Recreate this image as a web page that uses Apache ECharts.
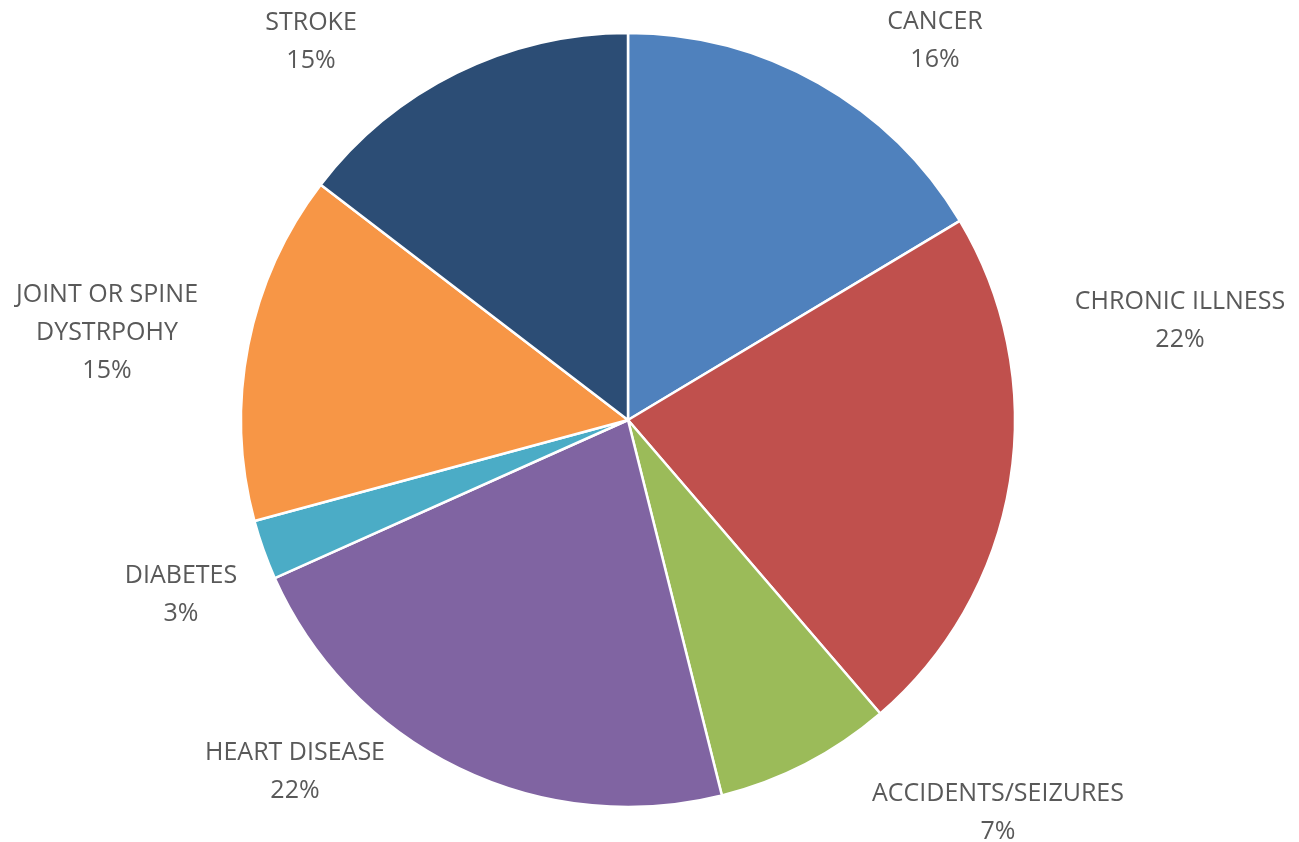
<!DOCTYPE html>
<html>
<head>
<meta charset="utf-8">
<script src="https://cdn.jsdelivr.net/npm/echarts@6/dist/echarts.min.js"></script>
<style>
  html, body { margin: 0; padding: 0; background: #ffffff; }
  #chart { width: 1299px; height: 842px; }
</style>
</head>
<body>
<div id="chart"></div>
<script>
// ---- data ----
const categories = ['CANCER', 'CHRONIC ILLNESS', 'ACCIDENTS/SEIZURES', 'HEART DISEASE', 'DIABETES', 'JOINT OR SPINE\nDYSTRPOHY', 'STROKE'];
const shares = [16.4, 22.3, 7.4, 22.2, 2.5, 14.6, 14.6];

// ---- style ----
const colors = ['#4F81BD', '#C0504D', '#9BBB59', '#8064A2', '#4BACC6', '#F79646', '#2C4D75'];
const CX = 628, CY = 420, R = 387;
// label block centres, offset from the pie centre (layout only)
const labelOffsets = [[307, -379], [552, -99], [370, 393], [-333, 352], [-447, 175], [-521, -87], [-317, -378]];

const chart = echarts.init(document.getElementById('chart'), null, { renderer: 'canvas' });
chart.setOption({
  animation: false,
  backgroundColor: '#ffffff',
  series: [{
    type: 'pie',
    center: [CX, CY],
    radius: R,
    startAngle: 90,
    clockwise: true,
    avoidLabelOverlap: false,
    itemStyle: { borderColor: '#ffffff', borderWidth: 2.5 },
    label: {
      show: true,
      position: 'outside',
      color: '#595959',
      fontFamily: 'Open Sans',
      fontSize: 25,
      lineHeight: 38,
      formatter: (p) => p.name + '\n' + Math.round(p.value) + '%'
    },
    labelLine: { show: false },
    labelLayout: (p) => ({
      x: CX + labelOffsets[p.dataIndex][0],
      y: CY + labelOffsets[p.dataIndex][1],
      align: 'center',
      verticalAlign: 'middle'
    }),
    emphasis: { disabled: true },
    data: categories.map((c, i) => ({ name: c, value: shares[i], itemStyle: { color: colors[i] } }))
  }]
});
</script>
</body>
</html>
